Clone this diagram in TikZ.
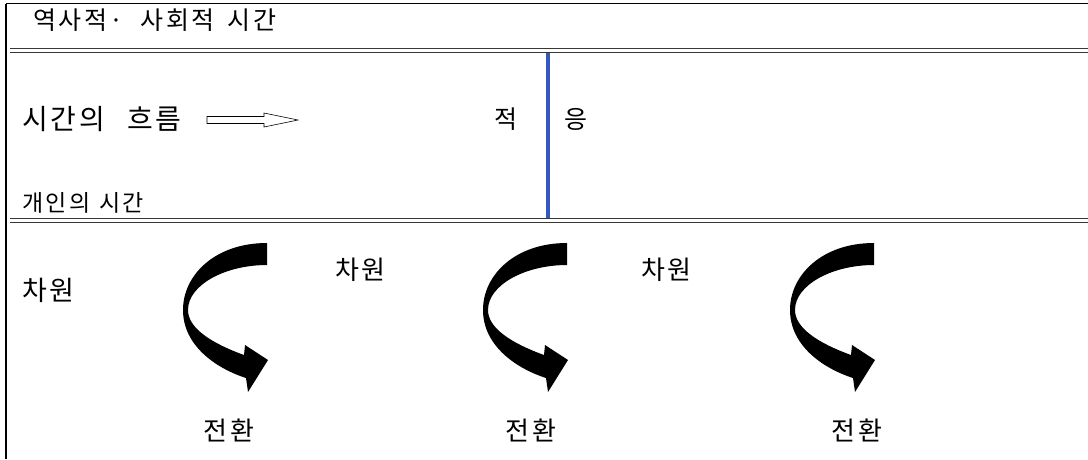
\documentclass[tikz,border=0pt]{standalone}
\usepackage{fontspec}
\newfontfamily\krfont[LetterSpace=10]{Noto Sans CJK KR}
\definecolor{lineblue}{RGB}{52,88,190}
\definecolor{rulegray}{RGB}{55,55,55}
\newcommand\ksize[1]{\fontsize{#1}{#1}\selectfont}
\tikzset{
  kortext/.style={font=\krfont\ksize{26}, inner sep=0pt},
  rule/.style={draw=rulegray, line width=1.2pt},
  pics/turnarrow/.style={code={
    \fill (84,0) .. controls (32,0) and (0,32) .. (0,67)
      .. controls (0,102) and (32,125) .. (63,135)
      -- (65,149) -- (85,117) -- (62,102) -- (61,112)
      .. controls (28,100) and (5,85) .. (5,67)
      .. controls (5,42) and (42,22) .. (84,22) -- cycle;
  }}
}

\begin{document}
\begin{tikzpicture}[x=1pt, y=-1pt]
    \useasboundingbox (0,0) rectangle (1088,459);

    % Frame
    \draw[line width=1.2pt] (6,3.5) -- (1088,3.5);
    \draw[line width=1.2pt] (6,3.5) -- (6,459);

    % Double rules
    \draw[rule] (10,48.5) -- (1088,48.5);
    \draw[rule] (10,52.5) -- (1088,52.5);
    \draw[rule] (10,218.5) -- (1088,218.5);
    \draw[rule] (10,222.5) -- (1088,222.5);

    % Blue divider
    \draw[lineblue, line width=3.5pt] (548,53) -- (548,218);

    % Top row
    \node[kortext, font=\krfont\ksize{25}, anchor=west] (title) at (33,20)
      {역사적·\hspace{17pt}사회적\hspace{13pt}시간};

    % Middle row
    \node[kortext, font=\krfont\ksize{28}, anchor=west] (flow) at (22,119)
      {시간의\hspace{22pt}흐름};
    \node[kortext, font=\krfont\ksize{25}] (jeok) at (506,119) {적};
    \node[kortext, font=\krfont\ksize{25}] (eung) at (576,119) {응};
    \node[kortext, font=\krfont\ksize{23}, anchor=west] (indiv) at (22,203)
      {개인의\hspace{9pt}시간};

    % Hollow arrow
    \coordinate (flowtail) at (207,120);
    \draw[line width=0.6pt] (flowtail) ++(0,-3.5) -- ++(57,0) -- ++(0,-3.5)
      -- (298,120) -- (264,127) -- (264,123.5) -- ++(-57,0) -- cycle;

    % Bottom row
    \node[kortext, font=\krfont\ksize{27}, anchor=west] (dim1) at (22,290)
      {차원};
    \node[kortext, anchor=west] (dim2) at (335,270) {차원};
    \node[kortext, anchor=west] (dim3) at (641,270) {차원};

    \pic at (183,243) {turnarrow};
    \pic at (483,243) {turnarrow};
    \pic at (790,243) {turnarrow};

    \node[kortext] (turn1) at (229,430) {전환};
    \node[kortext] (turn2) at (531,430) {전환};
    \node[kortext] (turn3) at (857,430) {전환};

\end{tikzpicture}
\end{document}
